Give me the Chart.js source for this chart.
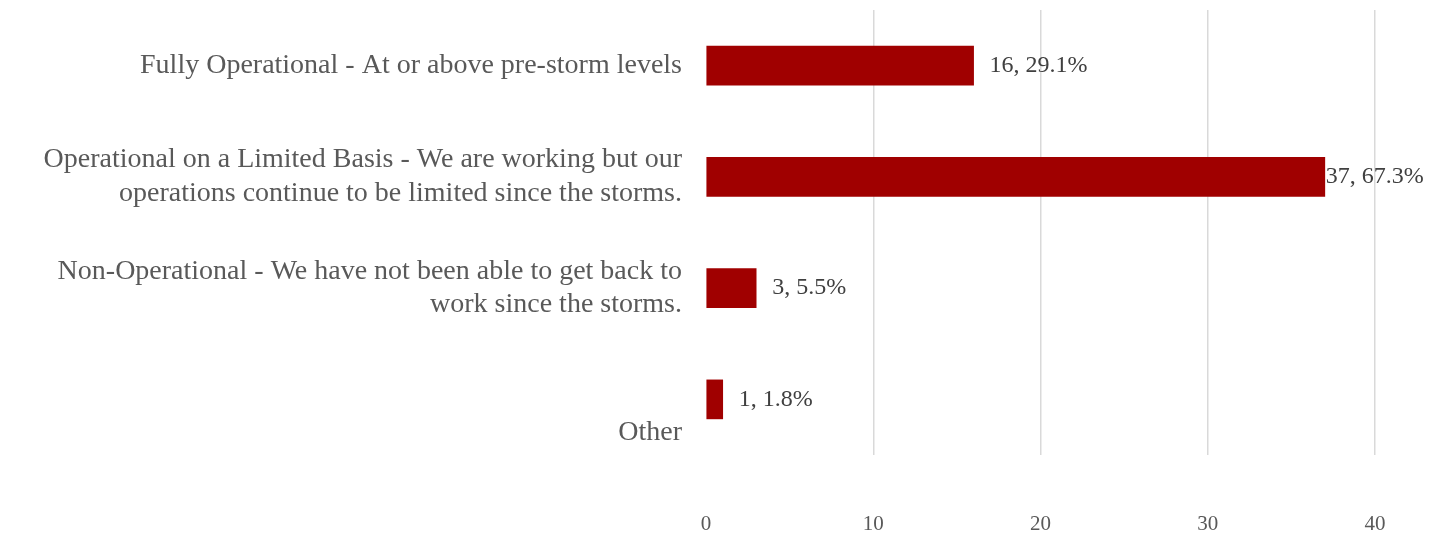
<!DOCTYPE html>
<html>
<head>
<meta charset="utf-8">
<script src="https://cdn.jsdelivr.net/npm/chart.js@4"></script>
<style>
  html, body { margin: 0; padding: 0; background: #fff; }
  #wrap { width: 1447px; height: 534px; }
</style>
</head>
<body>
<div id="wrap"><canvas id="statusChart"></canvas></div>
<script>
// Survey data
const categories = [
    ['Fully Operational - At or above pre-storm levels'],
    ['Operational on a Limited Basis - We are working but our', 'operations continue to be limited since the storms.'],
    ['Non-Operational - We have not been able to get back to', 'work since the storms.'],
    ['', '', 'Other']
];
const counts = [16, 37, 3, 1];
const percents = ['29.1%', '67.3%', '5.5%', '1.8%'];
const xTicks = [0, 10, 20, 30, 40];

const FONT = "'Liberation Serif', serif";

// Value labels next to each bar ("16, 29.1%")
const barLabels = {
    id: 'barLabels',
    afterDatasetsDraw(chart) {
        const ctx = chart.ctx;
        const meta = chart.getDatasetMeta(0);
        const maxVal = Math.max(...counts);
        ctx.save();
        ctx.font = '24px ' + FONT;
        ctx.fillStyle = '#404040';
        ctx.textBaseline = 'middle';
        ctx.textAlign = 'left';
        meta.data.forEach((bar, i) => {
            const off = counts[i] === maxVal ? 1 : 16;
            ctx.fillText(counts[i] + ', ' + percents[i], bar.x + off, bar.y);
        });
        ctx.restore();
    }
};

const ctx = document.getElementById('statusChart').getContext('2d');
const statusChart = new Chart(ctx, {
    type: 'bar',
    data: {
        labels: categories,
        datasets: [{
            data: counts,
            backgroundColor: '#A00000',
            barThickness: 39
        }]
    },
    plugins: [barLabels],
    options: {
        indexAxis: 'y',
        responsive: true,
        maintainAspectRatio: false,
        animation: false,
        layout: { padding: { top: 10, right: 72, left: 0, bottom: 0 } },
        plugins: {
            legend: { display: false },
            tooltip: { enabled: false }
        },
        scales: {
            x: {
                min: 0,
                max: 40,
                afterBuildTicks(axis) { axis.ticks = xTicks.map(v => ({ value: v })); },
                afterFit(axis) { axis.height = 79; axis.paddingLeft = 0; axis.paddingRight = 0; },
                border: { display: false },
                grid: {
                    drawTicks: false,
                    color: c => c.tick && c.tick.value === 0 ? 'rgba(0,0,0,0)' : '#d9d9d9',
                    lineWidth: 1.5
                },
                ticks: {
                    padding: 57,
                    color: '#595959',
                    font: { family: FONT, size: 21 }
                }
            },
            y: {
                afterFit(axis) { axis.width = 706; axis.paddingTop = 0; axis.paddingBottom = 0; },
                border: { display: false },
                grid: { display: false, drawTicks: false },
                ticks: {
                    autoSkip: false,
                    padding: 24,
                    color: '#595959',
                    font: { family: FONT, size: 28, lineHeight: 1.2 }
                }
            }
        }
    }
});
</script>
</body>
</html>
